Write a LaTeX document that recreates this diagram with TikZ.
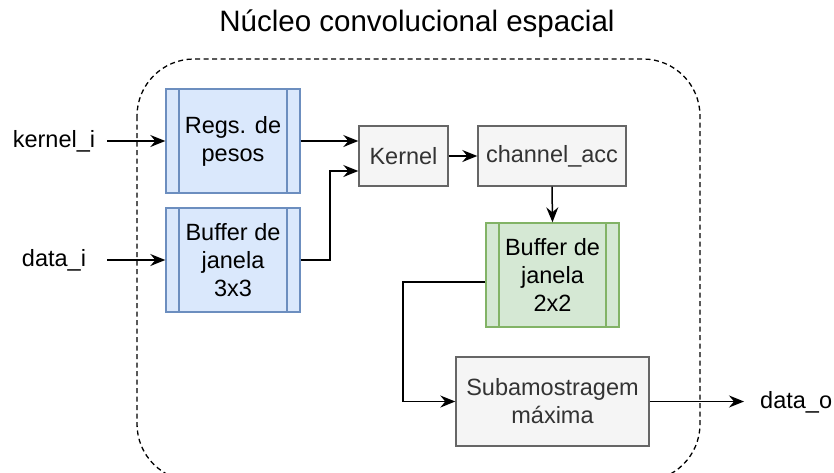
\documentclass[tikz,border=0pt]{standalone}
\usepackage{fontspec}
\setmainfont{Liberation Sans}
\usetikzlibrary{arrows.meta}
\definecolor{bluefill}{HTML}{DAE8FC}
\definecolor{bluedraw}{HTML}{6C8EBF}
\definecolor{greenfill}{HTML}{D5E8D4}
\definecolor{greendraw}{HTML}{82B366}
\definecolor{grayfill}{HTML}{F5F5F5}
\definecolor{graydraw}{HTML}{666666}
\definecolor{graytext}{HTML}{333333}
\tikzset{
  blk/.style={rectangle, inner sep=0pt, align=center, line width=1.4pt,
    font=\fontsize{23.5}{28}\selectfont},
  procbox/.style={blk,
    path picture={
      \draw[line width=1.4pt, #1]
        ([xshift=13pt]path picture bounding box.north west) --
        ([xshift=13pt]path picture bounding box.south west)
        ([xshift=-13pt]path picture bounding box.north east) --
        ([xshift=-13pt]path picture bounding box.south east);}},
  bluebox/.style={procbox=bluedraw, fill=bluefill, draw=bluedraw},
  greenbox/.style={procbox=greendraw, fill=greenfill, draw=greendraw},
  graybox/.style={blk, fill=grayfill, draw=graydraw, text=graytext},
  lbl/.style={inner sep=0pt, font=\fontsize{23.5}{28}\selectfont},
  conn/.style={line width=1.5pt, -{Stealth[length=15pt,width=12pt,inset=5pt]}},
}
\begin{document}
\begin{tikzpicture}[x=1pt,y=-1pt]
\useasboundingbox (0,0) rectangle (834,472);

% title and the dashed outline of the core
\node[inner sep=0pt, font=\fontsize{29.5}{35}\selectfont] (title) at (417,24) {Núcleo convolucional espacial};
\draw[line width=1.3pt, dash pattern=on 5pt off 3.5pt, rounded corners=57pt]
  (137,59) rectangle (700,481);

% blocks
\node[bluebox, minimum width=134pt, minimum height=104pt] (regs) at (233,141) {Regs. de\\pesos};
\node[bluebox, minimum width=134pt, minimum height=104pt] (buf3) at (233,260) {Buffer de\\janela\\3x3};
\node[graybox, minimum width=89pt, minimum height=60pt] (kern) at (403.5,156) {Kernel};
\node[graybox, minimum width=148pt, minimum height=60pt] (acc) at (552,156) {channel\_acc};
\node[greenbox, minimum width=133pt, minimum height=104pt] (buf2) at (552.5,275) {Buffer de\\janela\\2x2};
\node[graybox, minimum width=193pt, minimum height=89pt] (sub) at (552.5,401.5) {Subamostragem\\máxima};

% ports
\node[lbl] (kin) at (54,141) {kernel\_i};
\node[lbl] (din) at (54,260) {data\_i};
\node[lbl, anchor=west] (dout) at (760,402) {data\_o};
\coordinate (kinend) at (107,141);
\coordinate (dinend) at (107,260);
\coordinate (doutend) at (744,401.5);

% connectors
\draw[conn] (kinend) -- (regs.west);
\draw[conn] (dinend) -- (buf3.west);
\draw[conn] (regs.east |- 0,141) -- (kern.west |- 0,141);
\draw[conn] (buf3.east) -- (330,260) -- (330,171) -- (kern.west |- 0,171);
\draw[conn] (kern.east) -- (acc.west);
\draw[conn] (acc.south) -- (buf2.north);
\draw[conn] ([yshift=-7pt]buf2.west) -- (403,282) -- (403,401.5) -- (sub.west);
\draw[conn] (sub.east) -- (doutend);
\end{tikzpicture}
\end{document}
